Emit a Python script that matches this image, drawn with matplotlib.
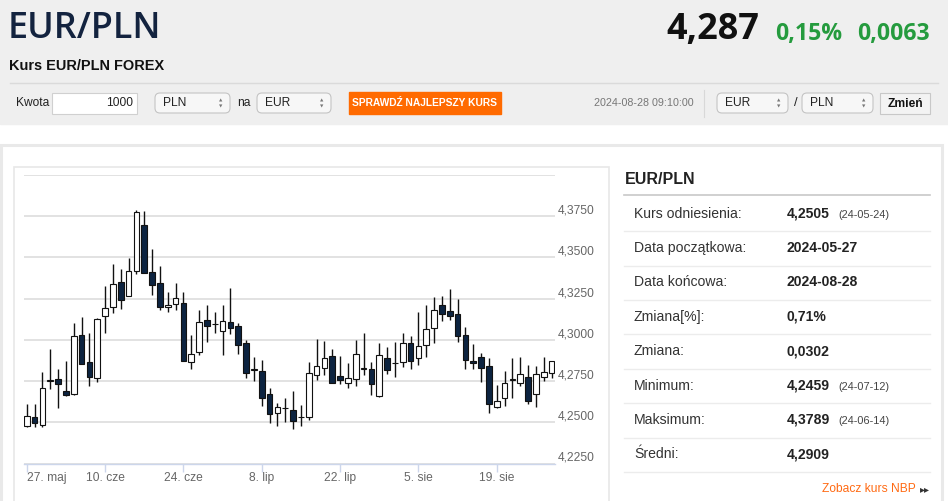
import matplotlib.pyplot as plt
import matplotlib.transforms as mtransforms
from matplotlib.patches import Rectangle, FancyBboxPatch

# candle data, EUR/PLN daily, 27 May - 28 Aug 2024
opens = [4.2480, 4.2534, 4.2486, 4.2752, 4.2764, 4.2689, 4.2672, 4.3032, 4.2867, 4.2766,
         4.3145, 4.3202, 4.3348, 4.3269, 4.3419, 4.3697, 4.3413, 4.3342, 4.3202, 4.3220,
         4.3224, 4.2865, 4.2926, 4.3119, 4.3095, 4.3054, 4.3107, 4.3082, 4.2979, 4.2819,
         4.2812, 4.2674, 4.2557, 4.2585, 4.2575, 4.2530, 4.2532, 4.2784, 4.2831, 4.2900,
         4.2778, 4.2739, 4.2764, 4.2825, 4.2825, 4.2660, 4.2888, 4.2857, 4.2865, 4.2983,
         4.2888, 4.2969, 4.3074, 4.3214, 4.3178, 4.3159, 4.3032, 4.2871, 4.2896, 4.2843,
         4.2593, 4.2646, 4.2758, 4.2739, 4.2776, 4.2670, 4.2776, 4.2800]
highs = [4.2612, 4.2612, 4.2808, 4.2942, 4.2825, 4.2873, 4.3103, 4.3137, 4.3040, 4.3133,
         4.3326, 4.3462, 4.3427, 4.3496, 4.3789, 4.3780, 4.3551, 4.3450, 4.3291, 4.3344,
         4.3291, 4.3032, 4.3180, 4.3210, 4.3166, 4.3214, 4.3314, 4.3105, 4.3001, 4.2896,
         4.2877, 4.2707, 4.2618, 4.2648, 4.2691, 4.2606, 4.2867, 4.3007, 4.2991, 4.2942,
         4.2902, 4.2861, 4.3001, 4.3040, 4.2867, 4.2979, 4.2959, 4.2985, 4.3040, 4.3023,
         4.3168, 4.3210, 4.3259, 4.3269, 4.3310, 4.3247, 4.3078, 4.2977, 4.2918, 4.2890,
         4.2727, 4.2814, 4.2890, 4.2896, 4.2847, 4.2839, 4.2898, 4.2873]
lows = [4.2470, 4.2470, 4.2470, 4.2699, 4.2587, 4.2662, 4.2668, 4.2851, 4.2719, 4.2743,
        4.3040, 4.3161, 4.3186, 4.3265, 4.3399, 4.3405, 4.3275, 4.3182, 4.3166, 4.3184,
        4.2871, 4.2821, 4.2910, 4.2987, 4.3042, 4.2910, 4.3034, 4.2916, 4.2766, 4.2750,
        4.2601, 4.2496, 4.2480, 4.2502, 4.2459, 4.2480, 4.2512, 4.2756, 4.2784, 4.2739,
        4.2735, 4.2707, 4.2719, 4.2784, 4.2666, 4.2656, 4.2790, 4.2776, 4.2835, 4.2821,
        4.2847, 4.2898, 4.2983, 4.3115, 4.3119, 4.2987, 4.2823, 4.2825, 4.2746, 4.2557,
        4.2587, 4.2597, 4.2650, 4.2719, 4.2612, 4.2591, 4.2748, 4.2770]
closes = [4.2537, 4.2498, 4.2707, 4.2756, 4.2733, 4.2666, 4.3026, 4.2853, 4.2774, 4.3129,
          4.3196, 4.3336, 4.3241, 4.3419, 4.3774, 4.3407, 4.3330, 4.3202, 4.3214, 4.3255,
          4.2871, 4.2916, 4.3107, 4.3082, 4.3099, 4.3117, 4.3070, 4.2969, 4.2800, 4.2823,
          4.2646, 4.2551, 4.2593, 4.2589, 4.2510, 4.2534, 4.2800, 4.2841, 4.2888, 4.2739,
          4.2756, 4.2766, 4.2912, 4.2828, 4.2733, 4.2906, 4.2816, 4.2861, 4.2979, 4.2871,
          4.2965, 4.3066, 4.3184, 4.3159, 4.3145, 4.3024, 4.2875, 4.2859, 4.2831, 4.2612,
          4.2632, 4.2739, 4.2762, 4.2794, 4.2630, 4.2794, 4.2808, 4.2873]

tick_idx = [0, 10, 20, 30, 40, 50, 60]
tick_labels = ["27. maj", "10. cze", "24. cze", "8. lip", "22. lip", "5. sie", "19. sie"]
y_levels = [4.225, 4.25, 4.275, 4.30, 4.325, 4.35, 4.375, 4.40]

row_labels = ["Kurs odniesienia:", "Data początkowa:", "Data końcowa:", "Zmiana[%]:",
              "Zmiana:", "Minimum:", "Maksimum:", "Średni:"]
row_values = ["4,2505", "2024-05-27", "2024-08-28", "0,71%", "0,0302", "4,2459", "4,3789", "4,2909"]
row_notes = ["(24-05-24)", "", "", "", "", "(24-07-12)", "(24-06-14)", ""]

last_rate = "4,287"
change_pct = "0,15%"
change_abs = "0,0063"

W, H = 948, 501
SANS = ["Liberation Sans", "DejaVu Sans"]
OPEN = ["Open Sans", "DejaVu Sans"]


def pt(px):
    return px * 0.72


fig = plt.figure(figsize=(W / 100, H / 100), dpi=100)
bg = fig.add_axes([0, 0, 1, 1])
bg.set_xlim(0, W)
bg.set_ylim(H, 0)
bg.axis("off")

# page header
bg.add_patch(Rectangle((0, 0), W, 123.5, color="#efefef", zorder=0))
bg.text(8, 28.5, "EUR/PLN", fontsize=pt(36), family=OPEN, weight="semibold", color="#13233f", va="center")
bg.text(759, 30, last_rate, fontsize=pt(36), family=OPEN, weight="bold", color="#111111",
        va="center", ha="right")
bg.text(775, 33.5, change_pct, fontsize=pt(23), family=OPEN, weight="bold", color="#259b3e",
        va="center")
bg.text(857, 33.5, change_abs, fontsize=pt(23), family=OPEN, weight="bold", color="#259b3e",
        va="center")
bg.text(9, 66, "Kurs EUR/PLN FOREX", fontsize=pt(14.5), family=SANS, weight="bold",
        color="#111111", va="center")
bg.plot([10, 938], [82.5, 82.5], color="#dadada", lw=1)

# converter controls
row_y = 103
bg.text(16, row_y, "Kwota", fontsize=pt(12), family=SANS, color="#222222", va="center")
bg.add_patch(Rectangle((52.5, 92.5), 85, 21, facecolor="white", edgecolor="#d0d0d0", lw=0.8))
bg.text(133, row_y, "1000", fontsize=pt(12), family=SANS, color="#222222", va="center", ha="right")


def select_box(x0, x1, label):
    bg.add_patch(FancyBboxPatch((x0, 93), x1 - x0, 20, boxstyle="round,pad=0,rounding_size=5",
                                facecolor="#f7f7f7", edgecolor="#c4c4c4", lw=0.8))
    bg.text(x0 + 8, row_y, label, fontsize=pt(12), family=SANS, color="#222222", va="center")
    bg.text(x1 - 9, row_y - 3, "▲", fontsize=3.2, color="#777777", ha="center", va="center")
    bg.text(x1 - 9, row_y + 3, "▼", fontsize=3.2, color="#777777", ha="center", va="center")


select_box(155, 230, "PLN")
bg.text(237, row_y, "na", fontsize=pt(12), family=SANS, color="#222222", va="center")
select_box(257, 331, "EUR")
bg.add_patch(Rectangle((349, 91.5), 152, 22, color="#ff6a00"))
bg.text(425, row_y, "SPRAWDŹ NAJLEPSZY KURS", fontsize=pt(10.2), family=SANS,
        weight="bold", color="white", ha="center", va="center")
bg.text(694, row_y, "2024-08-28 09:10:00", fontsize=pt(10.7), family=SANS, color="#777777",
        ha="right", va="center")
bg.plot([704.5, 704.5], [90, 117], color="#d8d8d8", lw=0.8)
select_box(717, 788, "EUR")
bg.text(795.5, row_y, "/", fontsize=pt(13), family=SANS, color="#222222", ha="center", va="center")
select_box(802, 873, "PLN")
bg.add_patch(Rectangle((880, 93), 50, 21, facecolor="#f3f3f3", edgecolor="#c8c8c8", lw=0.8))
bg.text(905, row_y + 0.5, "Zmień", fontsize=pt(12), family=SANS, weight="bold", color="#111111",
        ha="center", va="center")

# white panel with chart frame
bg.add_patch(Rectangle((1.5, 144.5), 941, 370, facecolor="white", edgecolor="#e9e9e9", lw=2.2))
bg.add_patch(Rectangle((14, 166.5), 595, 350, facecolor="white", edgecolor="#e8e8e8", lw=1.2))

# stats table
bg.text(625, 179, "EUR/PLN", fontsize=pt(16), family=SANS, weight="bold", color="#222222", va="center")
bg.plot([624, 930], [195, 195], color="#c8c8c8", lw=1.2)
for i, (lab, val, note) in enumerate(zip(row_labels, row_values, row_notes)):
    yc = 213.5 + i * 34.4
    bg.text(634, yc, lab, fontsize=pt(14), family=SANS, color="#333333", va="center")
    bg.text(787, yc, val, fontsize=pt(14), family=SANS, weight="bold", color="#222222", va="center")
    if note:
        bg.text(838, yc + 1, note, fontsize=pt(11), family=SANS, color="#444444", va="center")
    bg.plot([624, 930], [yc + 17.7, yc + 17.7], color="#ececec", lw=1)
bg.text(916, 488.5, "Zobacz kurs NBP", fontsize=pt(12), family=SANS, color="#ff6a13", ha="right", va="center")
bg.text(930, 489, "▸▸", fontsize=pt(10), family=["DejaVu Sans"], color="#333333", ha="right", va="center")

# candlestick chart
ax_l, ax_r, ax_t, ax_b = 24, 555, 175, 463.5
ax = fig.add_axes([ax_l / W, (H - ax_b) / H, (ax_r - ax_l) / W, (ax_b - ax_t) / H])
ax.set_facecolor("none")
ax.set_xlim(-0.345, 67.44)
ax.set_ylim(4.225, 4.40)

for i in range(len(opens)):
    up = closes[i] >= opens[i]
    ax.vlines(i, lows[i], highs[i], color="#111111", lw=1.0, zorder=2)
    body = closes[i] - opens[i]
    if abs(body) < 0.0002:
        body = 0.0002 if up else -0.0002
    ax.bar(i, body, bottom=opens[i], width=0.72, color="white" if up else "#0c2340",
           edgecolor="#111111", lw=0.8, zorder=3)

ax.set_yticks(y_levels)
ax.grid(axis="y", color="#dddddd", lw=1.2, zorder=0)
ax.tick_params(axis="y", length=0, labelleft=False)
for s in ["top", "left", "right"]:
    ax.spines[s].set_visible(False)
ax.spines["bottom"].set_color("#ccd6eb")
ax.spines["bottom"].set_linewidth(1.0)

lab_tr = mtransforms.blended_transform_factory(ax.transAxes, ax.transData) + \
    mtransforms.ScaledTranslation(2.5 / 100, 5.5 / 100, fig.dpi_scale_trans)
for v in y_levels[:-1]:
    ax.text(1.0, v, f"{v:.4f}".replace(".", ","), transform=lab_tr, fontsize=pt(12), family=SANS,
            color="#666666", va="center", ha="left")

ax.set_xticks(tick_idx)
ax.set_xticklabels(tick_labels, fontsize=pt(12), family=SANS, color="#666666")
ax.tick_params(axis="x", direction="out", length=pt(8), width=1.0, color="#ccd6eb", pad=0.3)
ax.get_xticklabels()[0].set_ha("left")
ax.get_xticklabels()[0].set_x(-0.2)

fig.savefig("out.png", dpi=100)
